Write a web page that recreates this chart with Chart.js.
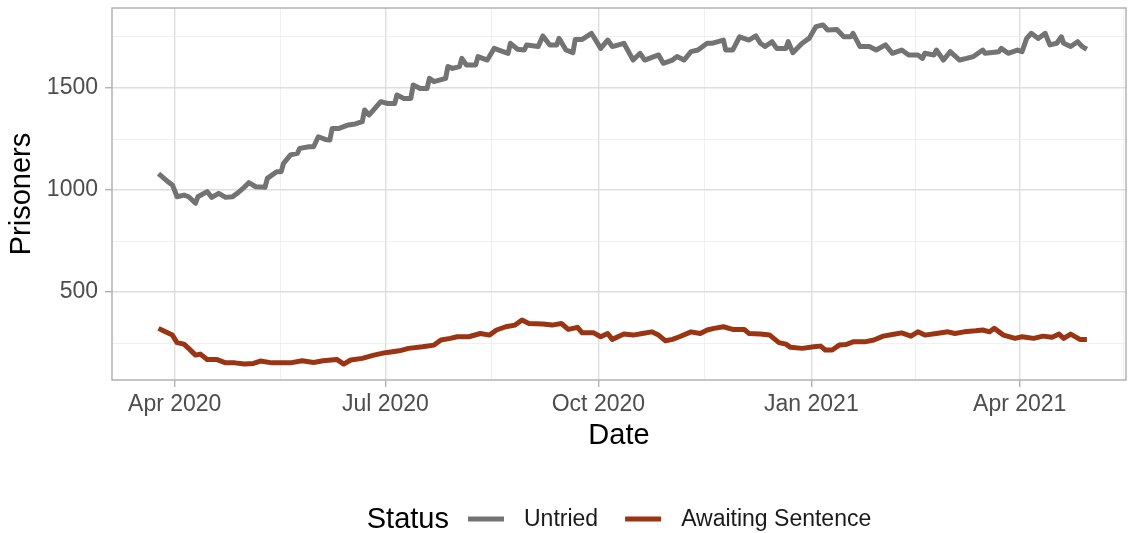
<!DOCTYPE html>
<html><head><meta charset="utf-8">
<script src="https://cdn.jsdelivr.net/npm/chart.js@4.4.1/dist/chart.umd.min.js"></script>
<style>html,body{margin:0;padding:0;background:#fff}#wrap{width:1128px;height:533px;position:relative}</style>
</head><body><div id="wrap"><canvas id="c"></canvas></div>
<script>
// ---------- DATA ----------
const seriesNames = ['Untried', 'Awaiting Sentence'];
const legendTitle = 'Status';
const xTitle = 'Date';
const yTitle = 'Prisoners';

const untriedDates = ['2020-03-25','2020-03-29','2020-03-31','2020-04-02','2020-04-05','2020-04-07','2020-04-10','2020-04-11','2020-04-15','2020-04-17','2020-04-20','2020-04-23','2020-04-26','2020-04-28','2020-05-01','2020-05-03','2020-05-06','2020-05-10','2020-05-11','2020-05-15','2020-05-17','2020-05-18','2020-05-21','2020-05-24','2020-05-25','2020-05-29','2020-05-31','2020-06-02','2020-06-05','2020-06-07','2020-06-08','2020-06-11','2020-06-15','2020-06-18','2020-06-21','2020-06-22','2020-06-24','2020-06-29','2020-07-02','2020-07-05','2020-07-06','2020-07-09','2020-07-12','2020-07-13','2020-07-16','2020-07-19','2020-07-20','2020-07-22','2020-07-27','2020-07-28','2020-07-30','2020-08-02','2020-08-03','2020-08-05','2020-08-09','2020-08-10','2020-08-14','2020-08-17','2020-08-19','2020-08-23','2020-08-24','2020-08-27','2020-08-30','2020-08-31','2020-09-05','2020-09-07','2020-09-10','2020-09-13','2020-09-14','2020-09-17','2020-09-20','2020-09-21','2020-09-24','2020-09-28','2020-10-02','2020-10-05','2020-10-07','2020-10-12','2020-10-16','2020-10-19','2020-10-21','2020-10-27','2020-10-29','2020-11-02','2020-11-04','2020-11-07','2020-11-10','2020-11-13','2020-11-17','2020-11-19','2020-11-24','2020-11-25','2020-11-28','2020-12-01','2020-12-05','2020-12-08','2020-12-10','2020-12-12','2020-12-15','2020-12-17','2020-12-21','2020-12-22','2020-12-24','2020-12-28','2020-12-31','2021-01-03','2021-01-06','2021-01-08','2021-01-12','2021-01-15','2021-01-18','2021-01-19','2021-01-22','2021-01-26','2021-01-29','2021-02-02','2021-02-05','2021-02-09','2021-02-12','2021-02-16','2021-02-18','2021-02-19','2021-02-23','2021-02-24','2021-02-27','2021-03-02','2021-03-06','2021-03-09','2021-03-12','2021-03-16','2021-03-17','2021-03-23','2021-03-24','2021-03-27','2021-03-31','2021-04-02','2021-04-04','2021-04-06','2021-04-09','2021-04-12','2021-04-14','2021-04-17','2021-04-19','2021-04-20','2021-04-23','2021-04-26','2021-04-28','2021-04-30'];
const untriedValues = [1080,1041,1025,967,975,967,935,967,992,964,984,964,967,984,1013,1036,1016,1013,1057,1090,1090,1131,1172,1180,1204,1212,1212,1261,1248,1245,1302,1302,1319,1324,1335,1392,1368,1433,1424,1424,1466,1449,1449,1515,1498,1498,1547,1531,1547,1605,1596,1605,1645,1613,1613,1654,1637,1694,1686,1670,1719,1690,1686,1711,1703,1755,1711,1711,1743,1686,1673,1738,1738,1768,1694,1735,1703,1719,1637,1670,1637,1662,1621,1637,1654,1637,1678,1686,1719,1719,1735,1686,1686,1751,1735,1755,1719,1703,1727,1694,1694,1727,1673,1719,1743,1801,1809,1784,1787,1751,1751,1768,1703,1703,1686,1711,1670,1686,1662,1662,1645,1670,1662,1686,1637,1678,1637,1645,1654,1686,1670,1678,1694,1670,1686,1678,1743,1768,1743,1768,1711,1719,1751,1719,1703,1727,1703,1690];

const awaitingDates = ['2020-03-25','2020-03-28','2020-03-31','2020-04-02','2020-04-05','2020-04-07','2020-04-10','2020-04-12','2020-04-15','2020-04-19','2020-04-23','2020-04-27','2020-05-01','2020-05-05','2020-05-08','2020-05-13','2020-05-21','2020-05-26','2020-05-31','2020-06-04','2020-06-10','2020-06-13','2020-06-16','2020-06-21','2020-06-26','2020-07-01','2020-07-07','2020-07-11','2020-07-17','2020-07-22','2020-07-25','2020-07-29','2020-08-01','2020-08-06','2020-08-11','2020-08-15','2020-08-18','2020-08-22','2020-08-26','2020-08-29','2020-09-01','2020-09-07','2020-09-11','2020-09-15','2020-09-18','2020-09-22','2020-09-24','2020-09-29','2020-10-02','2020-10-05','2020-10-07','2020-10-12','2020-10-16','2020-10-20','2020-10-24','2020-10-27','2020-10-30','2020-11-02','2020-11-05','2020-11-10','2020-11-14','2020-11-17','2020-11-20','2020-11-24','2020-11-28','2020-12-03','2020-12-05','2020-12-10','2020-12-14','2020-12-18','2020-12-21','2020-12-23','2020-12-28','2021-01-02','2021-01-05','2021-01-07','2021-01-10','2021-01-13','2021-01-16','2021-01-19','2021-01-24','2021-01-28','2021-02-01','2021-02-05','2021-02-09','2021-02-13','2021-02-16','2021-02-19','2021-02-24','2021-03-01','2021-03-04','2021-03-08','2021-03-13','2021-03-16','2021-03-19','2021-03-21','2021-03-25','2021-03-30','2021-04-02','2021-04-07','2021-04-11','2021-04-15','2021-04-18','2021-04-20','2021-04-23','2021-04-27','2021-04-30'];
const awaitingValues = [322,305,289,252,245,224,191,196,170,170,153,153,147,150,162,153,153,163,155,163,170,147,167,175,191,203,212,224,232,240,265,273,281,281,297,289,314,330,338,363,346,343,338,346,317,327,300,300,281,297,268,294,289,297,305,289,261,268,281,305,297,314,322,330,317,317,297,294,289,252,245,229,224,232,235,216,216,240,243,256,256,265,284,292,300,284,305,289,297,305,297,305,310,314,305,322,289,273,281,273,284,278,294,273,294,268,268];

const xMajorDates = ['2020-04-01','2020-07-01','2020-10-01','2021-01-01','2021-04-01'];
const xMajorLabels = ['Apr 2020','Jul 2020','Oct 2020','Jan 2021','Apr 2021'];
const yMajorTicks = [500, 1000, 1500];
const yMinorTicks = [250, 750, 1250, 1750];

// ---------- HELPERS ----------
const DAY = 86400000;
const ORIGIN = Date.UTC(2020, 3, 1);
function dayNum(s) { const [y, m, d] = s.split('-').map(Number); return (Date.UTC(y, m - 1, d) - ORIGIN) / DAY; }
const xMajor = xMajorDates.map(dayNum);
const xMinor = [];
for (let i = 0; i < xMajor.length; i++) {
  const next = i < xMajor.length - 1 ? xMajor[i + 1] : xMajor[i] + (xMajor[i] - xMajor[i - 1]);
  xMinor.push((xMajor[i] + next) / 2);
}
const xLabelMap = new Map(xMajor.map((v, i) => [v, xMajorLabels[i]]));
const isXMajor = v => xLabelMap.has(v);
const isYMajor = v => yMajorTicks.includes(v);

const FONT = '"Liberation Sans", Arial, Helvetica, sans-serif';
Chart.defaults.font.family = FONT;
Chart.defaults.color = '#4d4d4d';

const colors = ['#737373', '#9a3412'];
const GRID = '#dedede';
const BORDER = '#b3b3b3';

const toPts = (dates, vals) => dates.map((d, i) => ({ x: dayNum(d), y: vals[i] }));

const panelPlugin = {
  id: 'panel',
  beforeDatasetsDraw(chart) {
    const { ctx, chartArea: a } = chart;
    ctx.save();
    ctx.strokeStyle = BORDER;
    ctx.lineWidth = 1.5;
    ctx.strokeRect(a.left, a.top, a.right - a.left, a.bottom - a.top);
    ctx.restore();
  },
  afterDraw(chart) {
    const { ctx, chartArea: a } = chart;
    ctx.save();
    const yC = 519;
    ctx.font = '29px ' + FONT;
    const tW = ctx.measureText(legendTitle).width;
    ctx.font = '23px ' + FONT;
    const lw = seriesNames.map(s => ctx.measureText(s).width);
    const gapTitle = 19, key = 36, gapKey = 20, gapItems = 27;
    const total = tW + gapTitle + (key + gapKey) * 2 + lw[0] + gapItems + lw[1];
    let x = (a.left + a.right) / 2 - total / 2;
    ctx.textBaseline = 'middle';
    ctx.textAlign = 'left';
    ctx.fillStyle = '#000';
    ctx.font = '29px ' + FONT;
    ctx.fillText(legendTitle, x, yC + 1);
    x += tW + gapTitle;
    ctx.font = '23px ' + FONT;
    for (let i = 0; i < 2; i++) {
      ctx.strokeStyle = colors[i];
      ctx.lineWidth = 5;
      ctx.lineCap = 'butt';
      ctx.beginPath();
      ctx.moveTo(x, yC);
      ctx.lineTo(x + key, yC);
      ctx.stroke();
      x += key + gapKey;
      ctx.fillStyle = '#1a1a1a';
      ctx.fillText(seriesNames[i], x, yC + 1);
      x += lw[i] + gapItems;
    }
    ctx.restore();
  }
};

new Chart(document.getElementById('c'), {
  type: 'line',
  data: {
    datasets: [
      { label: seriesNames[0], data: toPts(untriedDates, untriedValues), borderColor: colors[0], backgroundColor: colors[0] },
      { label: seriesNames[1], data: toPts(awaitingDates, awaitingValues), borderColor: colors[1], backgroundColor: colors[1] }
    ]
  },
  options: {
    responsive: true,
    maintainAspectRatio: false,
    animation: false,
    parsing: true,
    elements: {
      point: { radius: 0, hoverRadius: 0 },
      line: { borderWidth: 5, tension: 0, borderJoinStyle: 'round', borderCapStyle: 'butt' }
    },
    layout: { padding: { left: 0, right: 2, top: 8, bottom: 80 } },
    plugins: { legend: { display: false }, tooltip: { enabled: false } },
    scales: {
      x: {
        type: 'linear',
        min: -27.1,
        max: 410.9,
        afterBuildTicks: s => { s.ticks = [...xMajor, ...xMinor].sort((a, b) => a - b).map(v => ({ value: v })); },
        afterFit: s => { s.height = 73; s.paddingLeft = 0; s.paddingRight = 0; },
        ticks: {
          autoSkip: false, maxRotation: 0, padding: 4,
          font: { size: 23 }, color: '#4d4d4d',
          callback: v => xLabelMap.get(v) || ''
        },
        grid: {
          color: c => c.tick && isXMajor(c.tick.value) ? GRID : '#ececec',
          lineWidth: c => c.tick && isXMajor(c.tick.value) ? 1.4 : 0.8,
          tickColor: c => c.tick && isXMajor(c.tick.value) ? BORDER : 'rgba(0,0,0,0)',
          tickLength: 7,
          tickWidth: 1.4
        },
        border: { display: false },
        title: { display: true, text: xTitle, color: '#000', font: { size: 29 }, padding: { top: 0, bottom: 0 } }
      },
      y: {
        type: 'linear',
        min: 69,
        max: 1892,
        afterBuildTicks: s => { s.ticks = [...yMinorTicks, ...yMajorTicks].sort((a, b) => a - b).map(v => ({ value: v })); },
        afterFit: s => { s.width = 112; s.paddingTop = 0; s.paddingBottom = 0; },
        ticks: {
          autoSkip: false, padding: 7,
          font: { size: 23 }, color: '#4d4d4d',
          callback: v => isYMajor(v) ? String(v) : ''
        },
        grid: {
          color: c => c.tick && isYMajor(c.tick.value) ? GRID : '#ececec',
          lineWidth: c => c.tick && isYMajor(c.tick.value) ? 1.4 : 0.8,
          tickColor: c => c.tick && isYMajor(c.tick.value) ? BORDER : 'rgba(0,0,0,0)',
          tickLength: 7,
          tickWidth: 1.4
        },
        border: { display: false },
        title: { display: true, text: yTitle, color: '#000', font: { size: 29 }, padding: { top: 5, bottom: 0 } }
      }
    }
  },
  plugins: [panelPlugin]
});
</script>
</body></html>
